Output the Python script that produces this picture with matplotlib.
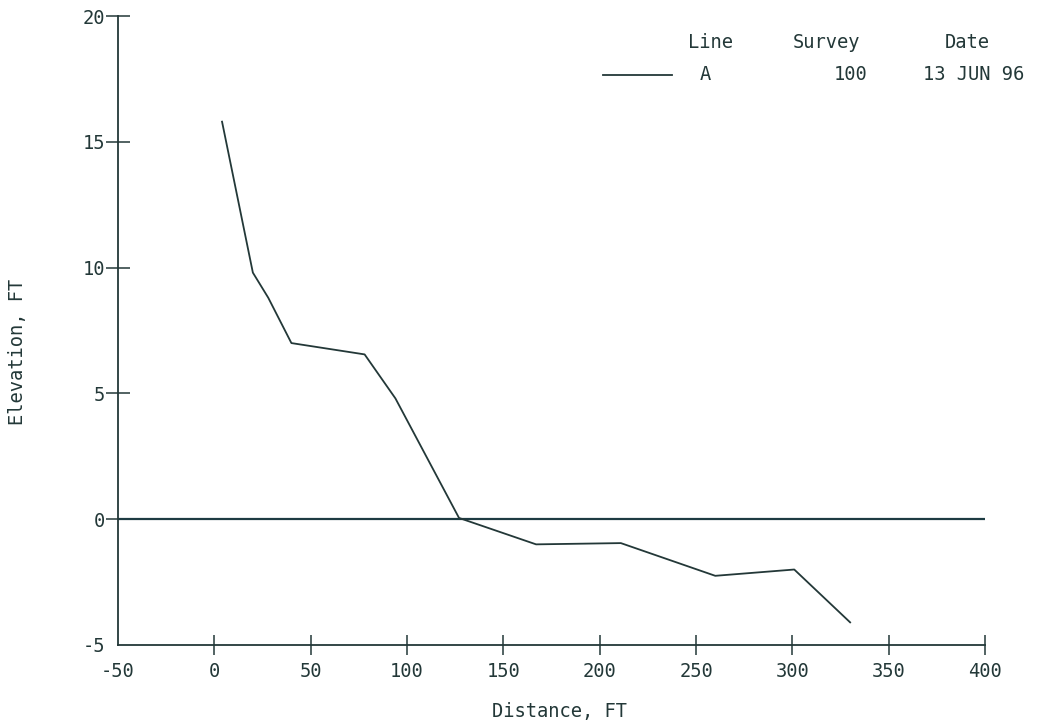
import matplotlib
matplotlib.use("Agg")
import matplotlib.pyplot as plt
from matplotlib.lines import Line2D

# Profile of survey line A (distance from baseline, elevation)
distance_ft = [4, 20, 28, 40, 78, 94, 127, 167, 211, 260, 301, 330]
elevation_ft = [15.8, 9.8, 8.8, 7.0, 6.55, 4.8, 0.05, -1.0, -0.95, -2.25, -2.0, -4.1]

# Datum reference line
datum_x = [-50, 400]
datum_y = [0, 0]

x_ticks = [-50, 0, 50, 100, 150, 200, 250, 300, 350, 400]
y_ticks = [-5, 0, 5, 10, 15, 20]
x_tick_labels = ["-50", "0", "50", "100", "150", "200", "250", "300", "350", "400"]
y_tick_labels = ["-5", "0", "5", "10", "15", "20"]

legend_header = ["Line", "Survey", "Date"]
legend_row = ["A", "100", "13 JUN 96"]

INK = "#233838"
FONT = "DejaVu Sans Mono"
FS = 13.5
plt.rcParams["font.family"] = [FONT, "DejaVu Sans"]

W, H = 1040, 727
fig = plt.figure(figsize=(W / 100, H / 100), dpi=100)
fig.patch.set_facecolor("white")

left, right, top, bottom = 118, 985, 16, 645
ax = fig.add_axes([left / W, 1 - bottom / H, (right - left) / W, (bottom - top) / H])
ax.set_facecolor("white")

ax.plot(datum_x, datum_y, color="#1d3b42", lw=1.6, solid_capstyle="butt")
ax.plot(distance_ft, elevation_ft, color=INK, lw=1.3)

ax.set_xlim(-50, 400)
ax.set_ylim(-5, 20)

for s in ("top", "right"):
    ax.spines[s].set_visible(False)
for s in ("left", "bottom"):
    ax.spines[s].set_color(INK)
    ax.spines[s].set_linewidth(1.3)

ax.set_xticks(x_ticks)
ax.set_xticklabels(x_tick_labels)
ax.set_yticks(y_ticks)
ax.set_yticklabels(y_tick_labels)
ax.tick_params(axis="x", direction="inout", length=14.4, width=1.1, color=INK,
               labelsize=FS, labelcolor=INK, pad=5)
ax.tick_params(axis="y", direction="inout", length=17.3, width=1.1, color=INK,
               labelsize=FS, labelcolor=INK, pad=0.5)
# corner ticks are not drawn
ax.xaxis.get_major_ticks()[0].tick1line.set_visible(False)
ax.yaxis.get_major_ticks()[0].tick1line.set_visible(False)

# axis titles
fig.text(560 / W, 1 - 712 / H, "Distance, FT", ha="center", va="center",
         fontsize=FS, color=INK)
fig.text(18 / W, 1 - 352 / H, "Elevation, FT", ha="center", va="center",
         rotation=90, fontsize=FS, color=INK)

# legend block
hdr_y = 1 - 42 / H
row_y = 1 - 75 / H
fig.text(711 / W, hdr_y, legend_header[0], ha="center", va="center", fontsize=FS, color=INK)
fig.text(826 / W, hdr_y, legend_header[1], ha="center", va="center", fontsize=FS, color=INK)
fig.text(967 / W, hdr_y, legend_header[2], ha="center", va="center", fontsize=FS, color=INK)
fig.add_artist(Line2D([603 / W, 672 / W], [row_y, row_y], transform=fig.transFigure,
                      color=INK, lw=1.3))
fig.text(705 / W, row_y, legend_row[0], ha="center", va="center", fontsize=FS, color=INK)
fig.text(868 / W, row_y, legend_row[1], ha="right", va="center", fontsize=FS, color=INK)
fig.text(974 / W, row_y, legend_row[2], ha="center", va="center", fontsize=FS, color=INK)

fig.savefig("out.png", dpi=100, facecolor="white")
